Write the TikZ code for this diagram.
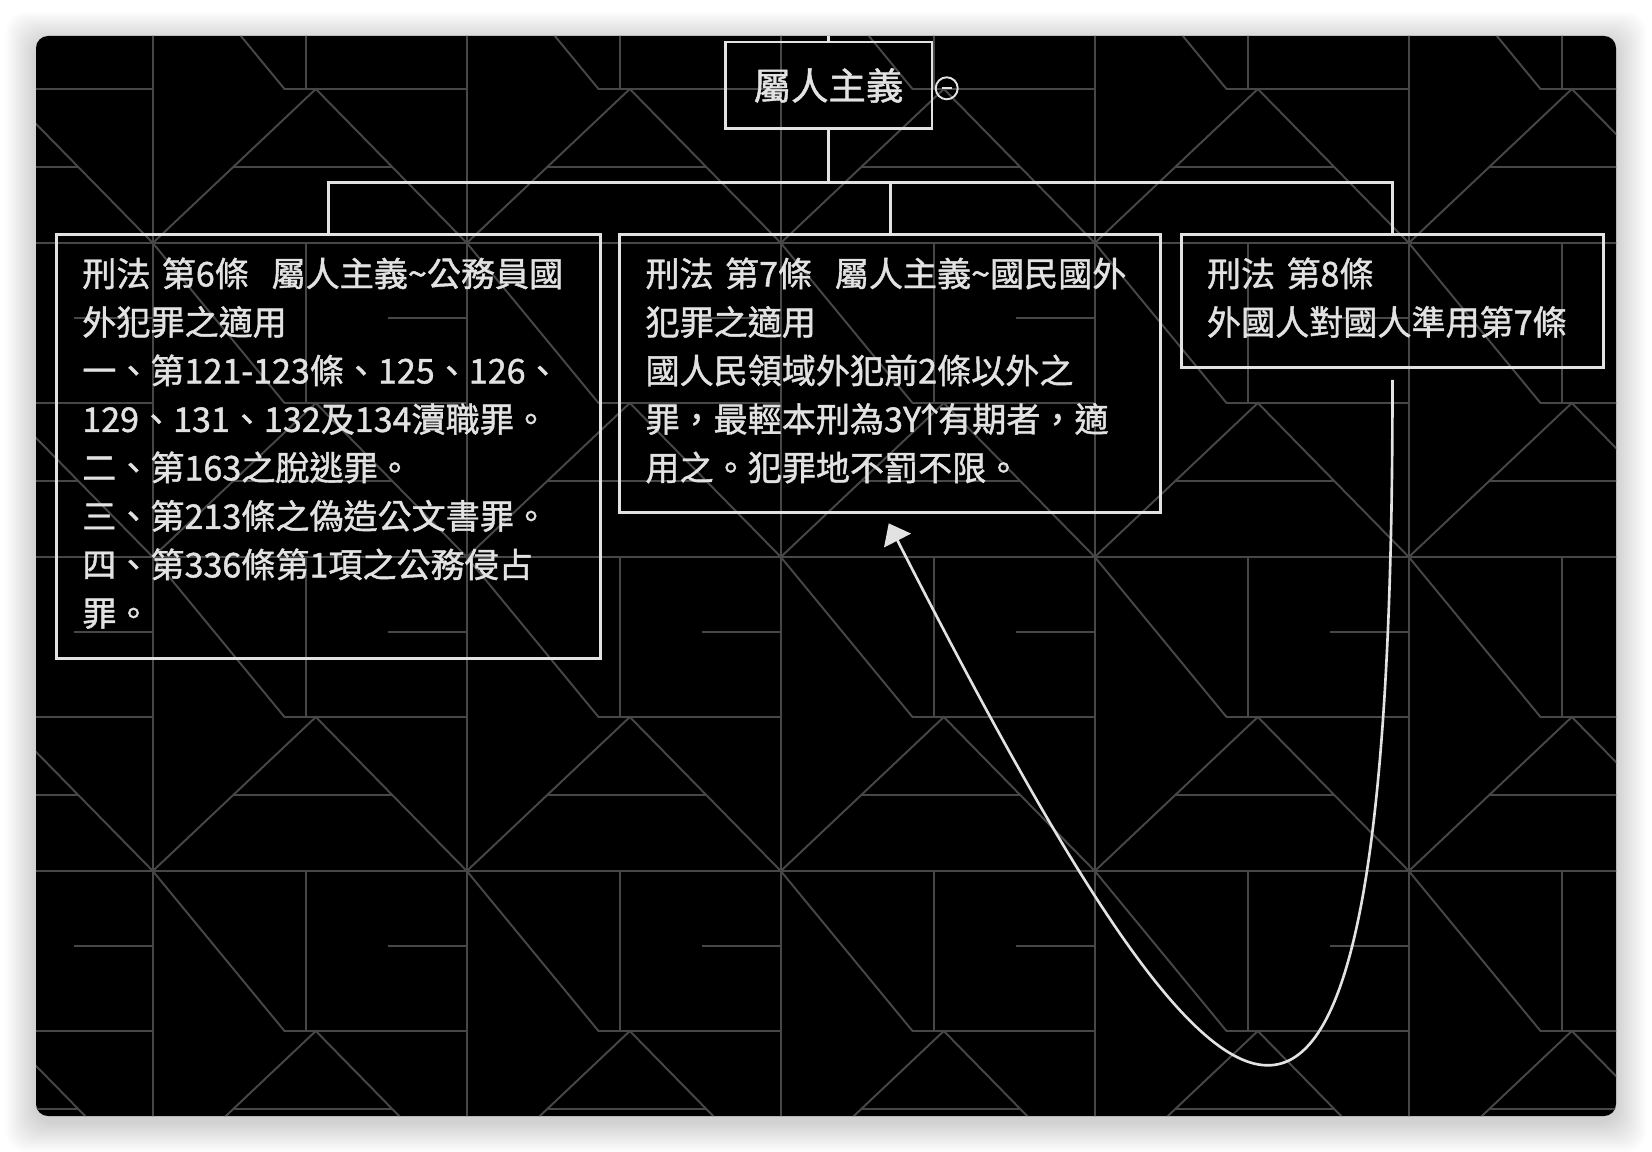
\documentclass[tikz,border=0pt]{standalone}
\usepackage{fontspec}
\newfontfamily\zhfont[FakeBold=1.2]{Noto Sans CJK TC}
\usepackage{tikz}
\usetikzlibrary{arrows.meta}
\usepackage{xcolor}
\definecolor{inkline}{HTML}{E2E2E2}
\definecolor{gridline}{HTML}{474747}

\begin{document}
\begin{tikzpicture}[x=0.02cm, y=-0.02cm,
    topic/.style={draw=inkline, line width=1.7pt, text=inkline, inner xsep=0.52cm, inner ysep=0.36cm,
      align=left, anchor=north west, font=\zhfont\fontsize{19.4pt}{27.6pt}\selectfont,
      execute at begin node=\strut, execute at end node=\strut},
    branch/.style={draw=inkline, line width=1.7pt},
    link/.style={draw=inkline, line width=1.5pt, -{Triangle[length=11pt, width=17pt]}}]
  % Fond et carte
  \useasboundingbox (0,0) rectangle (1652,1152);
  \fill[white] (0,0) rectangle (1652,1152);
  \foreach \d in {2,4,...,30}
    \fill[black, opacity=0.01, rounded corners=0.4cm] (36-\d,36-\d+6) rectangle (1616+\d,1116+\d+6);
  \fill[black, rounded corners=0.24cm] (36,36) rectangle (1616,1116);
  \begin{scope}
    \clip[rounded corners=0.24cm] (36,36) rectangle (1616,1116);
    \foreach \i in {-1,...,4}
      \foreach \j in {-1,...,2} {
        \begin{scope}[shift={(152.8+314*\i,243+314*\j)}, gridline, line width=1.1pt]
          \draw (0,0) -- (0,314);
          \draw (0,0) -- (314,0);
          \draw (0,0) -- (131.7,160) -- (314,160);
          \draw (152.8,0) -- (152.8,160);
          \draw (0,314) -- (163,160) -- (314,314);
          \draw (80.4,238) -- (239.5,238);
          \draw (235,75) -- (314,75);
        \end{scope}
      }
  \end{scope}

  % Noeuds
  \node[draw=inkline, line width=1.7pt, text=inkline, minimum width=4.14cm, minimum height=1.74cm,
    font=\zhfont\fontsize{21.3pt}{25pt}\selectfont] (root) at (828.5,85.5) {屬人主義};
  \node[circle, draw=inkline, line width=1.1pt, minimum size=0.44cm, inner sep=0pt] (fold) at (946.7,88.3) {};
  \draw[inkline, line width=1.1pt] ([shift={(-5,0)}]fold.center) -- ([shift={(5,0)}]fold.center);
  \coordinate (stub) at (828.5,36);

  \node[topic, text width=9.84cm] (art6) at (54.8,233) {刑法 第6條\ \ 屬人主義\textasciitilde 公務員國\\
    外犯罪之適用\\
    一、第121-123條、125、126、\\
    129、131、132及134瀆職罪。\\
    二、第163之脫逃罪。\\
    三、第213條之偽造公文書罪。\\
    四、第336條第1項之公務侵占\\
    罪。};
  \node[topic, text width=9.79cm] (art7) at (618,233) {刑法 第7條\ \ 屬人主義\textasciitilde 國民國外\\
    犯罪之適用\\
    國人民領域外犯前2條以外之\\
    罪，最輕本刑為3Y\kern-0.25em↑\kern-0.25em有期者，適\\
    用之。犯罪地不罰不限。};
  \node[topic, text width=7.42cm] (art8) at (1179.5,233) {刑法 第8條\\
    外國人對國人準用第7條};

  % Liens
  \draw[branch] (root.north) -- (stub);
  \draw[branch] (root.south) -- ++(0,52) -| (art6.north);
  \draw[branch] (root.south) -- ++(0,52) -| (art7.north);
  \draw[branch] (root.south) -- ++(0,52) -| (art8.north);
  \draw[link, shorten <=11*0.02cm, shorten >=10*0.02cm] (art8.south) .. controls +(1,1014) and +(325,636) .. ([shift={(-6,0)}]art7.south);
\end{tikzpicture}
\end{document}
